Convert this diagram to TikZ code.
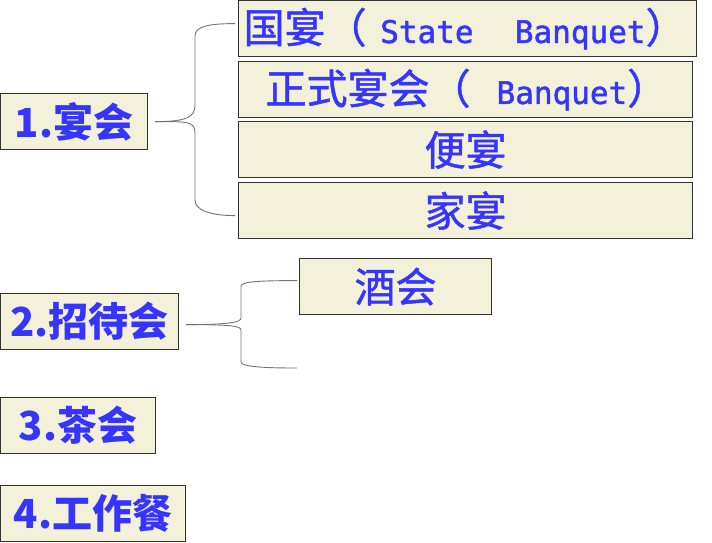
\documentclass[tikz,border=0pt]{standalone}
\usepackage{fontspec}
\newfontfamily\cjk{Noto Sans CJK SC}
\newfontfamily\cjkm[FakeBold=1.2]{Noto Sans CJK SC}
\newfontfamily\lat[FakeBold=1.5]{DejaVu Sans Mono}
\newcommand\en[1]{{\lat\fontsize{31}{40}\selectfont #1}}
\definecolor{boxfill}{HTML}{F3F1DA}
\definecolor{txtblue}{HTML}{3535FF}
\tikzset{
  kind/.style={draw=black!80,line width=1.2pt,fill=boxfill,text=txtblue,anchor=north west,inner sep=0pt,font=\cjk\bfseries\fontsize{40}{44}\selectfont},
  item/.style={kind,font=\cjkm\fontsize{41}{44}\selectfont},
  brace/.style={draw=black!55,line width=0.9pt}
}
\begin{document}
\begin{tikzpicture}[x=1pt,y=-1pt]
    \useasboundingbox (0,0) rectangle (712,542);
    % kinds
    \node[kind,minimum width=147pt,minimum height=56pt] (yanhui) at (0,93) {1.宴会};
    \node[kind,minimum width=178pt,minimum height=56pt] (zhaodai) at (0,293) {2.招待会};
    \node[kind,minimum width=155pt,minimum height=56pt] (chahui) at (0,397) {3.茶会};
    \node[kind,minimum width=185pt,minimum height=56pt] (gongzuo) at (0,485) {4.工作餐};
    % banquets
    \node[item,minimum width=457pt,minimum height=56pt,text width=448pt,align=left,inner xsep=5pt] (guoyan) at (238,0) {\mbox{国宴（\en{~State~~\kern14pt Banquet}）}};
    \node[item,minimum width=454pt,minimum height=56pt,text width=400pt,align=left,inner xsep=27pt] (zhengshi) at (238,61) {\mbox{正式宴会（\en{\kern26pt Banquet}）}};
    \node[item,minimum width=454pt,minimum height=56pt] (bianyan) at (238,121) {便宴};
    \node[item,minimum width=454pt,minimum height=56pt] (jiayan) at (238,182) {家宴};
    \node[item,minimum width=192pt,minimum height=56pt] (jiuhui) at (299,258) {酒会};
    % braces
    \coordinate (tip1) at ([xshift=7pt]yanhui.east);
    \coordinate (tip2) at ([xshift=7pt,yshift=-3pt]zhaodai.east);
    \coordinate (free) at (297,368);
    \draw[brace] (tip1) .. controls +(32,0) and +(0,12) .. (195,105) -- (195,36) .. controls +(0,-10) and +(-25,0) .. ([xshift=-3pt,yshift=5pt]guoyan.west);
    \draw[brace] (tip1) .. controls +(32,0) and +(0,-12) .. (195,133) -- (195,200) .. controls +(0,10) and +(-25,0) .. ([xshift=-3pt,yshift=-5pt]jiayan.west);
    \draw[brace] (tip2) .. controls +(45,0) and +(0,4) .. (241,318) -- (241,286) .. controls +(0,-5) and +(-30,0) .. ([xshift=-2pt,yshift=6pt]jiuhui.west);
    \draw[brace] (tip2) .. controls +(45,0) and +(0,-4) .. (241,330) -- (241,362) .. controls +(0,5) and +(-30,0) .. (free);
\end{tikzpicture}
\end{document}
